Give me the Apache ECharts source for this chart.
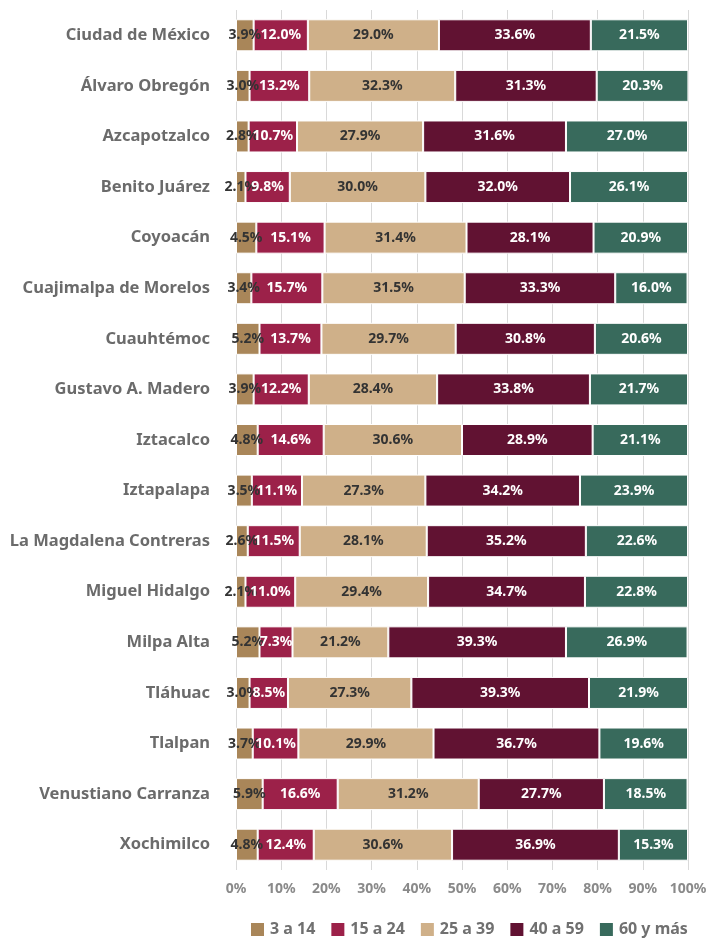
<!DOCTYPE html>
<html>
<head>
<meta charset="utf-8">
<script src="https://cdn.jsdelivr.net/npm/echarts@6/dist/echarts.min.js"></script>
<style>
    html, body { margin: 0; padding: 0; background: #fff; }
    #chart { width: 712px; height: 938px; }
</style>
</head>
<body>
<div id="chart"></div>
<script>
    var alcaldias = ['Ciudad de México', 'Álvaro Obregón', 'Azcapotzalco', 'Benito Juárez', 'Coyoacán',
        'Cuajimalpa de Morelos', 'Cuauhtémoc', 'Gustavo A. Madero', 'Iztacalco', 'Iztapalapa',
        'La Magdalena Contreras', 'Miguel Hidalgo', 'Milpa Alta', 'Tláhuac', 'Tlalpan',
        'Venustiano Carranza', 'Xochimilco'];

    var grupos = ['3 a 14', '15 a 24', '25 a 39', '40 a 59', '60 y más'];

    var edad3a14 = [3.9, 3.0, 2.8, 2.1, 4.5, 3.4, 5.2, 3.9, 4.8, 3.5, 2.6, 2.1, 5.2, 3.0, 3.7, 5.9, 4.8];
    var edad15a24 = [12.0, 13.2, 10.7, 9.8, 15.1, 15.7, 13.7, 12.2, 14.6, 11.1, 11.5, 11.0, 7.3, 8.5, 10.1, 16.6, 12.4];
    var edad25a39 = [29.0, 32.3, 27.9, 30.0, 31.4, 31.5, 29.7, 28.4, 30.6, 27.3, 28.1, 29.4, 21.2, 27.3, 29.9, 31.2, 30.6];
    var edad40a59 = [33.6, 31.3, 31.6, 32.0, 28.1, 33.3, 30.8, 33.8, 28.9, 34.2, 35.2, 34.7, 39.3, 39.3, 36.7, 27.7, 36.9];
    var edad60 = [21.5, 20.3, 27.0, 26.1, 20.9, 16.0, 20.6, 21.7, 21.1, 23.9, 22.6, 22.8, 26.9, 21.9, 19.6, 18.5, 15.3];

    var colores = ['#a98659', '#9c2149', '#cfb089', '#611232', '#386a5c'];
    var colorTexto = ['#333333', '#ffffff', '#333333', '#ffffff', '#ffffff'];
    var valores = [edad3a14, edad15a24, edad25a39, edad40a59, edad60];

    var fuente = 'Noto Sans';

    var series = grupos.map(function (nombre, i) {
        return {
            name: nombre,
            type: 'bar',
            stack: 'total',
            barWidth: 32,
            data: valores[i],
            itemStyle: { color: colores[i], borderColor: '#ffffff', borderWidth: 1 },
            label: {
                show: true,
                position: 'inside',
                formatter: function (p) { return p.value.toFixed(1) + '%'; },
                color: colorTexto[i],
                fontFamily: fuente,
                fontWeight: 'bold',
                fontSize: 14
            }
        };
    });

    var chart = echarts.init(document.getElementById('chart'));
    chart.setOption({
        animation: false,
        color: colores,
        grid: { left: 236, right: 24, top: 10, bottom: 68 },
        legend: {
            top: 916,
            left: 244,
            itemWidth: 15,
            itemHeight: 15,
            itemGap: 14,
            icon: 'rect',
            textStyle: { color: '#707070', fontFamily: fuente, fontWeight: 'bold', fontSize: 16 },
            data: grupos
        },
        xAxis: {
            type: 'value',
            min: 0,
            max: 100,
            interval: 10,
            axisLabel: {
                formatter: '{value}%',
                color: '#8a8a8a',
                fontFamily: fuente,
                fontWeight: 'bold',
                fontSize: 14,
                margin: 12
            },
            axisLine: { show: false },
            axisTick: { show: false },
            splitLine: { lineStyle: { color: '#d9d9d9', width: 1 } }
        },
        yAxis: {
            type: 'category',
            inverse: true,
            data: alcaldias,
            axisLine: { show: false },
            axisTick: { show: false },
            axisLabel: {
                color: '#6b6b6b',
                fontFamily: fuente,
                fontWeight: 'bold',
                fontSize: 16.5,
                margin: 26
            }
        },
        series: series
    });
</script>
</body>
</html>
